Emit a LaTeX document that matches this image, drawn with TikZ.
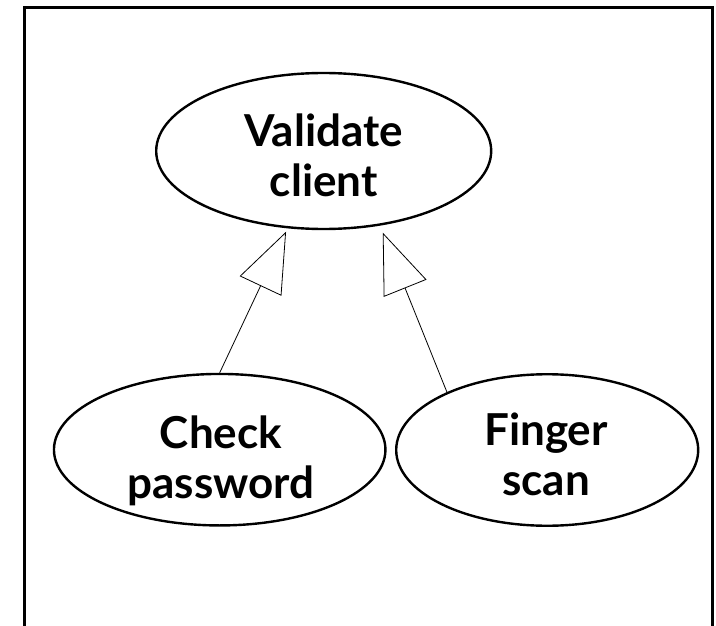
\documentclass[tikz,border=0pt]{standalone}
\usepackage{fontspec}
\setmainfont{Lato}
\usetikzlibrary{arrows.meta,shapes.geometric}
\tikzset{
  uc/.style={ellipse, draw, line width=2.4pt, inner sep=0pt},
  lbl/.style={align=center, font=\fontsize{44}{50}\selectfont\bfseries, inner sep=0pt},
  gen/.style={line width=0.8pt, -{Triangle[open, length=60pt, width=46pt, line width=0.8pt]}},
  frame/.style={line width=2.6pt}
}
\begin{document}
\begin{tikzpicture}[x=1pt,y=-1pt]
\useasboundingbox (0,0) rectangle (716,626);
\coordinate (f1) at (24.5,626);
\coordinate (f2) at (24.5,7.5);
\coordinate (f3) at (712.5,7.5);
\coordinate (f4) at (712.5,626);
\draw[frame] (f1) -- (f2) -- (f3) -- (f4);

\node[uc, minimum width=335pt, minimum height=156pt] (validate) at (323.7,151) {};
\node[uc, minimum width=331.5pt, minimum height=151.5pt] (check) at (219.7,449.7) {};
\node[uc, minimum width=302pt, minimum height=151.5pt] (finger) at (547.2,450) {};

\node[lbl] (vt) at (323.7,155.8) {Validate\\client};
\node[lbl] (ct) at (221,460.8) {Check\\password};
\node[lbl] (ft) at (546,454.6) {Finger\\scan};

\draw[gen, shorten >=3.7pt] (check.north) -- (validate.245.8);
\draw[gen, shorten >=7.5pt] (finger.150) -- (validate.307.5);
\end{tikzpicture}
\end{document}
